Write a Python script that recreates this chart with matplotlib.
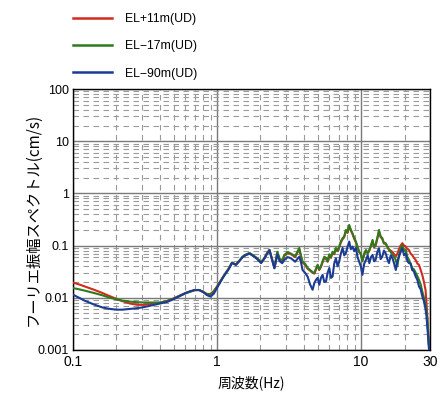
import matplotlib
matplotlib.use('Agg')
import matplotlib.pyplot as plt
from matplotlib.lines import Line2D

plt.rcParams['font.family'] = ['Noto Sans CJK JP', 'DejaVu Sans']

# frequency (Hz), shared by the three records
freq = [0.10, 0.11, 0.12, 0.14, 0.16, 0.18, 0.20, 0.22, 0.25, 0.28,
        0.31, 0.35, 0.40, 0.45, 0.50, 0.55, 0.60, 0.65, 0.70, 0.75,
        0.80, 0.85, 0.90, 0.95, 1.00, 1.05, 1.10, 1.15, 1.20, 1.27,
        1.35, 1.42, 1.50, 1.58, 1.68, 1.78, 1.90, 2.02, 2.12, 2.22,
        2.31, 2.40, 2.50, 2.62, 2.72, 2.83,
        2.93, 3.09, 3.26, 3.48, 3.72, 3.82, 3.92, 4.08, 4.25, 4.42,
        4.60, 4.73, 4.86, 4.99, 5.12, 5.26, 5.40, 5.55, 5.70, 5.85,
        6.01, 6.17, 6.33, 6.50, 6.68, 6.86, 7.04, 7.23, 7.43, 7.63,
        7.84, 8.05, 8.26, 8.48, 8.71, 8.95, 9.19, 9.44, 9.69, 9.95,
        10.2, 10.5, 10.8, 11.1, 11.4, 11.7, 12.0, 12.3, 12.6, 12.95,
        13.3, 13.65, 14.0, 14.4, 14.8, 15.2, 15.6, 16.05, 16.5, 16.95,
        17.4, 17.85, 18.3, 18.8, 19.3, 19.85, 20.4, 20.95, 21.5, 22.05,
        22.6, 23.25, 23.9, 24.55, 25.2, 25.9, 26.6, 27.3, 28.0, 28.4,
        28.8, 29.2, 29.6]

# Fourier amplitude (cm/s)
amp_p11 = [0.0195, 0.0180, 0.0165, 0.0142, 0.0123, 0.0107, 0.0095, 0.0086, 0.0077, 0.0073,
           0.0073, 0.0076, 0.0080, 0.0087, 0.0097, 0.0110, 0.0122, 0.0132, 0.0140, 0.0140,
           0.0130, 0.0118, 0.0118, 0.0135, 0.0165, 0.0205, 0.0250, 0.0300, 0.0360, 0.0470,
           0.0430, 0.0500, 0.0600, 0.0660, 0.0710, 0.0640, 0.0560, 0.0470, 0.0560, 0.0700,
           0.0820, 0.0560, 0.0370, 0.0720, 0.0520, 0.0470,
           0.064, 0.072, 0.068, 0.060, 0.085, 0.062, 0.047, 0.043, 0.036, 0.033,
           0.030, 0.029, 0.035, 0.041, 0.034, 0.039, 0.048, 0.058, 0.056, 0.049,
           0.066, 0.058, 0.073, 0.068, 0.087, 0.078, 0.092, 0.115, 0.132, 0.145,
           0.190, 0.175, 0.235, 0.195, 0.165, 0.135, 0.115, 0.092, 0.074, 0.068,
           0.052, 0.068, 0.080, 0.072, 0.080, 0.098, 0.120, 0.092, 0.100, 0.135,
           0.185, 0.145, 0.135, 0.110, 0.108, 0.095, 0.085, 0.080, 0.075, 0.068,
           0.062, 0.070, 0.085, 0.100, 0.111, 0.100, 0.095, 0.085, 0.082, 0.070,
           0.066, 0.058, 0.053, 0.045, 0.043, 0.034, 0.027, 0.020, 0.014, 0.008,
           0.0045, 0.0022, 0.0011]

amp_m17 = [0.0153, 0.0145, 0.0137, 0.0123, 0.0111, 0.0100, 0.0093, 0.0088, 0.0084, 0.0082,
           0.0081, 0.0081, 0.0081, 0.0086, 0.0096, 0.0108, 0.0120, 0.0130, 0.0140, 0.0140,
           0.0130, 0.0116, 0.0115, 0.0132, 0.0162, 0.0200, 0.0248, 0.0298, 0.0355, 0.0470,
           0.0435, 0.0505, 0.0610, 0.0670, 0.0720, 0.0650, 0.0570, 0.0480, 0.0570, 0.0710,
           0.0830, 0.0570, 0.0380, 0.0760, 0.0560, 0.0520,
           0.066, 0.075, 0.070, 0.062, 0.090, 0.065, 0.049, 0.045, 0.037, 0.034,
           0.031, 0.0295, 0.036, 0.043, 0.035, 0.040, 0.050, 0.061, 0.058, 0.050,
           0.068, 0.060, 0.076, 0.070, 0.090, 0.080, 0.095, 0.120, 0.138, 0.150,
           0.199, 0.180, 0.248, 0.200, 0.172, 0.140, 0.119, 0.095, 0.076, 0.070,
           0.050, 0.070, 0.082, 0.070, 0.082, 0.100, 0.128, 0.095, 0.103, 0.140,
           0.199, 0.150, 0.140, 0.110, 0.111, 0.095, 0.082, 0.075, 0.066, 0.060,
           0.053, 0.040, 0.066, 0.085, 0.103, 0.080, 0.082, 0.060, 0.053, 0.045,
           0.037, 0.035, 0.030, 0.026, 0.022, 0.018, 0.0130, 0.0100, 0.0073, 0.0055,
           0.0038, 0.0020, 0.0012]

amp_m90 = [0.0114, 0.0100, 0.0088, 0.0074, 0.0065, 0.0061, 0.0059, 0.0059, 0.0061, 0.0063,
           0.0066, 0.0071, 0.0077, 0.0083, 0.0094, 0.0108, 0.0122, 0.0133, 0.0140, 0.0141,
           0.0128, 0.0112, 0.0105, 0.0120, 0.0155, 0.0195, 0.0245, 0.0295, 0.0345, 0.0465,
           0.0425, 0.0495, 0.0595, 0.0655, 0.0700, 0.0630, 0.0550, 0.0460, 0.0550, 0.0690,
           0.0810, 0.0550, 0.0365, 0.0680, 0.0500, 0.0460,
           0.053, 0.060, 0.057, 0.049, 0.061, 0.048, 0.034, 0.030, 0.0254, 0.018,
           0.0142, 0.019, 0.022, 0.024, 0.0177, 0.024, 0.0274, 0.020, 0.0204, 0.030,
           0.037, 0.024, 0.0254, 0.045, 0.057, 0.040, 0.049, 0.070, 0.090, 0.065,
           0.072, 0.095, 0.119, 0.085, 0.095, 0.078, 0.090, 0.060, 0.049, 0.040,
           0.0274, 0.045, 0.053, 0.065, 0.046, 0.060, 0.066, 0.050, 0.053, 0.075,
           0.089, 0.055, 0.061, 0.080, 0.071, 0.055, 0.046, 0.065, 0.057, 0.045,
           0.034, 0.050, 0.061, 0.075, 0.089, 0.065, 0.071, 0.050, 0.046, 0.045,
           0.034, 0.032, 0.0254, 0.022, 0.0164, 0.0145, 0.0105, 0.0085, 0.0060, 0.0045,
           0.0028, 0.0017, 0.0010]

labels = ['EL+11m(UD)', 'EL\u221217m(UD)', 'EL\u221290m(UD)']
colors = ['#d42a1e', '#2f7a1c', '#1c3c94']

fig = plt.figure(figsize=(4.4, 3.94), dpi=100)
ax = fig.add_axes([0.166, 0.112, 0.811, 0.662])

for y, c in zip([amp_p11, amp_m17, amp_m90], colors):
    ax.plot(freq, y, color=c, lw=1.5, zorder=3)

ax.set_xscale('log')
ax.set_yscale('log')
ax.set_xlim(0.1, 30)
ax.set_ylim(0.001, 100)

ax.set_xticks([0.1, 1, 10, 30])
ax.set_xticklabels(['0.1', '1', '10', '30'])
ax.set_yticks([0.001, 0.01, 0.1, 1, 10, 100])
ax.set_yticklabels(['0.001', '0.01', '0.1', '1', '10', '100'])
ax.tick_params(which='both', length=0)
ax.tick_params(axis='x', labelsize=10, pad=4)
ax.tick_params(axis='y', labelsize=9, pad=3)
for t in ax.get_xticklabels() + ax.get_yticklabels():
    t.set_family(['Liberation Sans', 'DejaVu Sans'])

ax.grid(which='major', color='#7a7a7a', lw=1.0, ls='-')
ax.grid(which='minor', color='#9a9a9a', lw=0.8, ls=(0, (5, 4)))
for s in ax.spines.values():
    s.set_linewidth(1.0)

ax.set_xlabel('周波数(Hz)', fontsize=10, labelpad=4)
ax.set_ylabel('フーリエ振幅スペクトル(cm/s)', fontsize=11)
ax.yaxis.set_label_coords(-0.087, 0.5)

handles = [Line2D([], [], color=c, lw=1.8) for c in colors]
fig.legend(handles, labels, loc='upper left', bbox_to_anchor=(0.14, 0.995),
           frameon=False, handlelength=3.2, handletextpad=1.1,
           labelspacing=1.25, prop={'family': ['Liberation Sans', 'DejaVu Sans'], 'size': 8.8})

fig.savefig('out.png', dpi=100)
